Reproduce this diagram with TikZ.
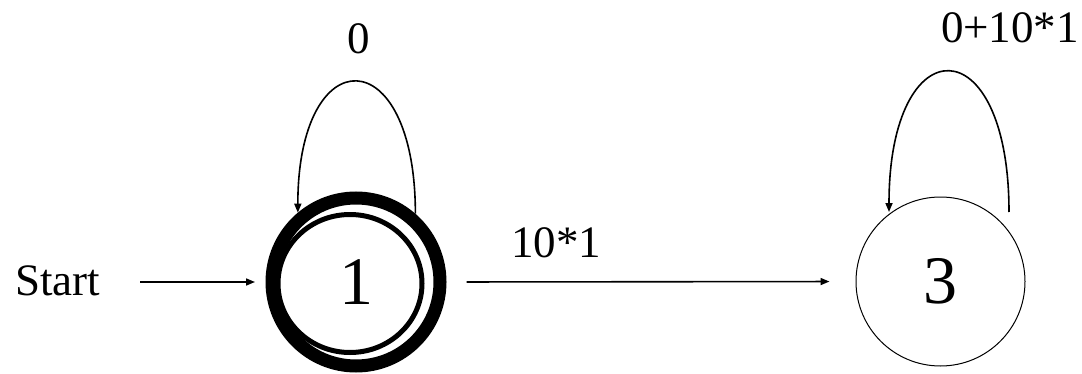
\documentclass[tikz,border=0pt]{standalone}
\usepackage{fontspec}
\setmainfont{Liberation Serif}
\usetikzlibrary{arrows.meta}
\begin{document}
\begin{tikzpicture}[x=1pt,y=1pt,
  lbl/.style={font=\fontsize{45}{48}\selectfont, inner sep=0pt},
  statenum/.style={font=\fontsize{68}{72}\selectfont},
  edge/.style={line width=1.6pt, -{Triangle[length=9pt,width=7pt]}},
  accstate/.style={circle, draw, line width=13pt, minimum size=168pt, inner sep=0pt},
  plainstate/.style={circle, draw, line width=1pt, minimum size=169pt, inner sep=0pt}]
\useasboundingbox (0,0) rectangle (1082,373);
\node[accstate, statenum] (s1) at (356,91) {1};
\draw[line width=5pt] (350,89.5) ellipse [x radius=72, y radius=69];
\node[plainstate, statenum] (s3) at (940.5,91.5) {3};
\node[lbl, anchor=base west] (start) at (15,78) {Start};
\node[lbl, anchor=base] (l13) at (556,116) {10*1};
\node[lbl, anchor=base] (l11) at (359,319) {0};
\node[lbl, anchor=base] (l33) at (1010,330) {0+10*1};
\draw[edge, shorten <=40pt, shorten >=10.5pt] (start.east |- s1.west) -- (s1.west);
\draw[edge, shorten <=20pt, shorten >=26pt] (s1.east) -- (s3.west);
\draw[edge] (s1.49.5) .. controls +(0,175) and +(0,175) .. (s1.130.5);
\coordinate (s3r) at ([shift={(68.5pt,69.5pt)}]s3.center);
\coordinate (s3l) at ([shift={(-51.5pt,69.5pt)}]s3.center);
\draw[edge] (s3r) .. controls +(0,187) and +(0,187) .. (s3l);
\end{tikzpicture}
\end{document}
